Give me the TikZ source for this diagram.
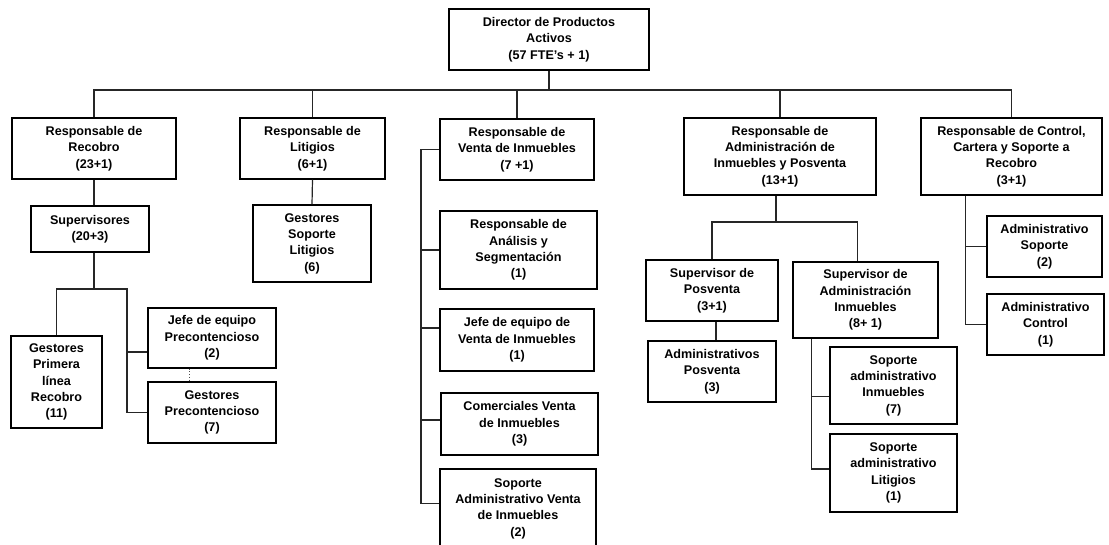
\documentclass[tikz,border=0pt]{standalone}
\usepackage{fontspec}
\setmainfont{Liberation Sans}
\usetikzlibrary{calc}
\tikzset{
  box/.style={draw=black, line width=1.1pt, align=center, inner sep=0pt,
    font=\bfseries\fontsize{12.6}{16.3}\selectfont},
  link/.style={draw=black!85, line width=1.2pt},
  dotlink/.style={draw=black!70, line width=0.8pt, dotted},
}
% \orgbox{name}{left}{top}{right}{bottom}{text}
\newcommand\orgbox[6]{%
  \node[box, minimum width={(#4-#2)*1pt}, minimum height={(#5-#3)*1pt}]
    (#1) at ({(#2+#4)/2},{(#3+#5)/2}) {#6};}
\begin{document}
\begin{tikzpicture}[x=1pt,y=-1pt]
\useasboundingbox (0,0) rectangle (1109,545);
\clip (0,0) rectangle (1109,545);

% top level
\orgbox{dir}{449}{9}{649}{70}{Director de Productos\\Activos\\(57 FTE’s + 1)}

% second level
\orgbox{rec}{12}{118}{176}{179}{Responsable de\\Recobro\\(23+1)}
\orgbox{lit}{240}{118}{385}{179}{Responsable de\\Litigios\\(6+1)}
\orgbox{ven}{440}{119}{594}{180}{Responsable de\\Venta de Inmuebles\\(7 +1)}
\orgbox{adm}{684}{118}{876}{195}{Responsable de\\Administración de\\Inmuebles y Posventa\\(13+1)}
\orgbox{ctl}{921}{118}{1102}{195}{Responsable de Control,\\Cartera y Soporte a\\Recobro\\(3+1)}

% Recobro branch
\orgbox{sup}{31}{206}{149}{252}{Supervisores\\(20+3)}
\orgbox{gpl}{11}{336}{102}{428}{Gestores\\Primera\\línea\\Recobro\\(11)}
\orgbox{jp}{148}{308}{276}{368}{Jefe de equipo\\Precontencioso\\(2)}
\orgbox{gpc}{148}{382}{276}{443}{Gestores\\Precontencioso\\(7)}

% Litigios branch
\orgbox{gsl}{253}{205}{371}{282}{Gestores\\Soporte\\Litigios\\(6)}

% Venta branch
\orgbox{ana}{440}{211}{597}{289}{Responsable de\\Análisis y\\Segmentación\\(1)}
\orgbox{jv}{440}{309}{594}{371}{Jefe de equipo de\\Venta de Inmuebles\\(1)}
\orgbox{com}{441}{393}{598}{455}{Comerciales Venta\\de Inmuebles\\(3)}
\orgbox{sav}{440}{469}{596}{548}{Soporte\\Administrativo Venta\\de Inmuebles\\(2)}

% Administración branch
\orgbox{sp}{646}{260}{778}{321}{Supervisor de\\Posventa\\(3+1)}
\orgbox{ap}{648}{341}{776}{402}{Administrativos\\Posventa\\(3)}
\orgbox{sa}{793}{262}{938}{338}{Supervisor de\\Administración\\Inmuebles\\(8+ 1)}
\orgbox{sin}{830}{347}{957}{424}{Soporte\\administrativo\\Inmuebles\\(7)}
\orgbox{sli}{830}{434}{957}{512}{Soporte\\administrativo\\Litigios\\(1)}

% Control branch
\orgbox{asp}{987}{216}{1102}{277}{Administrativo\\Soporte\\(2)}
\orgbox{acn}{987}{294}{1104}{355}{Administrativo\\Control\\(1)}

% ---- connectors ----
% main bus
\coordinate (bus) at (0,90);
\draw[link] (dir.south) -- (dir.south |- bus);
\draw[link] (rec.north) -- (rec.north |- bus) -- (ctl.north |- bus) -- (ctl.north);
\draw[link] (lit.north) -- (lit.north |- bus);
\draw[link] (ven.north) -- (ven.north |- bus);
\draw[link] (adm.north) -- (adm.north |- bus);

% Recobro
\coordinate (recfork) at (0,289);
\coordinate (precx) at (127,0);
\draw[link] (rec.south) -- (rec.south |- sup.north);
\draw[link] (rec.south |- sup.south) -- (rec.south |- recfork);
\draw[link] (gpl.north) |- (precx |- recfork) |- (gpc.west);
\coordinate (jpt) at ($(jp.west)+(0,14)$);
\draw[link] (jpt) -- (jpt -| precx);
\draw[dotlink] ($(jp.south)+(-23,0)$) -- ($(gpc.north)+(-23,0)$);

% Litigios
\draw[link] (lit.south) -- (gsl.north);

% Venta
\coordinate (venx) at (421,0);
\coordinate (savt) at ($(sav.north west)+(0,35)$);
\coordinate (jvt) at ($(jv.west)+(0,-12)$);
\coordinate (comt) at ($(com.west)+(0,-4)$);
\draw[link] (ven.west) -| (savt -| venx) -- (savt);
\draw[link] (ana.west) -- (ana.west -| venx);
\draw[link] (jvt) -- (jvt -| venx);
\draw[link] (comt) -- (comt -| venx);

% Administración
\coordinate (admfork) at (0,222);
\coordinate (sax) at ($(sa.north)+(-8,0)$);
\draw[link] ($(adm.south)+(-4,0)$) -- ($(adm.south |- admfork)+(-4,0)$);
\draw[link] (sp.north) |- (sax |- admfork) -- (sax);
\draw[link] ($(sp.south)+(4,0)$) -- ($(ap.north)+(4,0)$);
\coordinate (sadx) at ($(sa.south west)+(19,0)$);
\coordinate (sint) at ($(sin.west)+(0,11)$);
\coordinate (slit) at ($(sli.west)+(0,-4)$);
\draw[link] (sadx) |- (slit);
\draw[link] (sint) -- (sint -| sadx);

% Control
\coordinate (ctlx) at ($(ctl.south west)+(45,0)$);
\draw[link] (ctlx) |- (acn.west);
\draw[link] (asp.west) -- (asp.west -| ctlx);
\end{tikzpicture}
\end{document}
